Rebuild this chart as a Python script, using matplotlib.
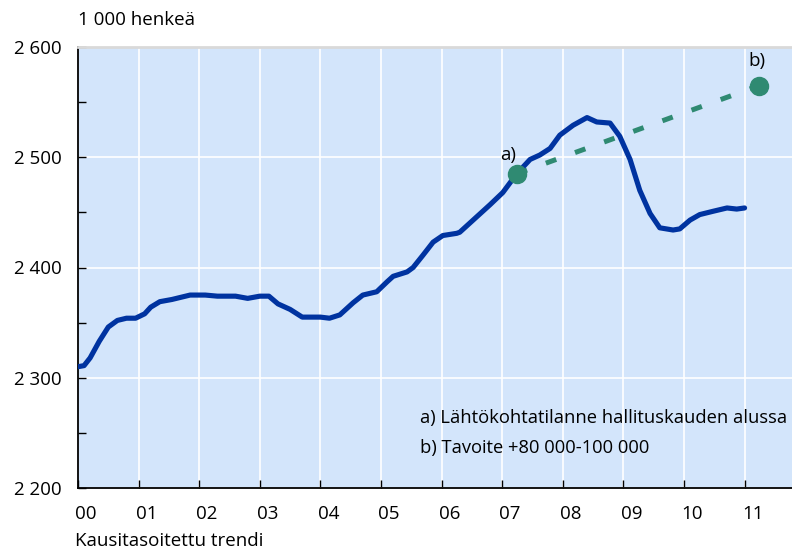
import matplotlib
matplotlib.use('Agg')
import matplotlib.pyplot as plt
from matplotlib.transforms import ScaledTranslation

# Data
years = [0.0, 0.1, 0.2, 0.35, 0.5, 0.65, 0.8, 0.95, 1.1, 1.2, 1.35, 1.55, 1.7, 1.85,
         2.1, 2.3, 2.6, 2.8, 3.0, 3.15, 3.3, 3.5, 3.7, 3.9, 4.0, 4.15, 4.32, 4.54,
         4.70, 4.93, 5.10, 5.20, 5.43, 5.53, 5.69, 5.86, 6.02, 6.25, 6.30, 6.52,
         6.80, 7.01, 7.24, 7.46, 7.62, 7.79, 7.95, 8.17, 8.40, 8.56, 8.78, 8.94,
         9.11, 9.27, 9.44, 9.60, 9.82, 9.93, 10.10, 10.26, 10.48, 10.71, 10.87, 11.0]
employed = [2310, 2311, 2318, 2333, 2346, 2352, 2354, 2354, 2358, 2364, 2369, 2371, 2373, 2375,
            2375, 2374, 2374, 2372, 2374, 2374, 2367, 2362, 2355, 2355, 2355, 2354, 2357, 2368,
            2375, 2378, 2387, 2392, 2396, 2400, 2411, 2423, 2429, 2431, 2432, 2443,
            2457, 2468, 2485, 2498, 2502, 2508, 2520, 2529, 2536, 2532, 2531, 2519,
            2498, 2470, 2449, 2436, 2434, 2435, 2443, 2448, 2451, 2454, 2453, 2454]

start_year, start_value = 7.24, 2485
target_year, target_value = 11.24, 2565

x_ticks = list(range(12))
x_labels = ['00', '01', '02', '03', '04', '05', '06', '07', '08', '09', '10', '11']
y_ticks = [2200, 2300, 2400, 2500, 2600]
y_labels = ['2 200', '2 300', '2 400', '2 500', '2 600']
y_minor = [2250, 2350, 2450, 2550]

note_a = 'a) Lähtökohtatilanne hallituskauden alussa'
note_b = 'b) Tavoite +80 000-100 000'

plt.rcParams['font.family'] = ['Open Sans', 'DejaVu Sans']
FS = 13.5
FS_NOTE = 13.2

BLUE = '#0033A0'
GREEN = '#2F8A72'
BG = '#D3E5FB'

fig = plt.figure(figsize=(7.92, 5.49), dpi=100)
ax = fig.add_axes([78/792, 61/549, 714/792, 441/549])
ax.set_facecolor(BG)
ax.set_xlim(0, 714/60.6)
ax.set_ylim(2200, 2600)

ax.set_xticks(x_ticks)
ax.set_xticklabels(x_labels, fontsize=FS)
ax.set_yticks(y_ticks)
ax.set_yticklabels(y_labels, fontsize=FS)
ax.set_yticks(y_minor, minor=True)
ax.grid(True, which='major', color='white', lw=1.2)
ax.set_axisbelow(True)

ax.tick_params(axis='both', which='both', direction='in', length=6, width=1, color='black')
ax.tick_params(axis='y', pad=12)
ax.tick_params(axis='x', pad=12)
off = ScaledTranslation(-2/72, 0, fig.dpi_scale_trans)
for lab in ax.get_xticklabels():
    lab.set_horizontalalignment('left')
    lab.set_transform(lab.get_transform() + off)

for s in ['left', 'bottom']:
    ax.spines[s].set_color('black')
    ax.spines[s].set_linewidth(1.3)
ax.spines['right'].set_visible(False)
ax.spines['top'].set_color('#d9d9d9')
ax.spines['top'].set_linewidth(2)

ax.plot([start_year, target_year], [start_value, target_value], color=GREEN, lw=3.6,
        dashes=(2.2, 4.0), dash_capstyle='butt', zorder=2)
ax.plot(years, employed, color=BLUE, lw=3.7, solid_capstyle='round',
        solid_joinstyle='round', zorder=3)
ax.plot([start_year, target_year], [start_value, target_value], 'o', ms=13,
        color=GREEN, zorder=4)

ax.text(start_year - 0.14, start_value + 9, 'a)', ha='center', va='bottom', fontsize=FS)
ax.text(target_year - 0.04, target_value + 14, 'b)', ha='center', va='bottom', fontsize=FS)

ax.text(5.64, 2263.5, note_a, ha='left', va='center', fontsize=FS_NOTE)
ax.text(5.64, 2236, note_b, ha='left', va='center', fontsize=FS_NOTE)

fig.text(78/792, 1 - 20/549, '1 000 henkeä', ha='left', va='center', fontsize=FS)
fig.text(75/792, 1 - 541/549, 'Kausitasoitettu trendi', ha='left', va='center', fontsize=FS)

fig.savefig('out.png', dpi=100)
